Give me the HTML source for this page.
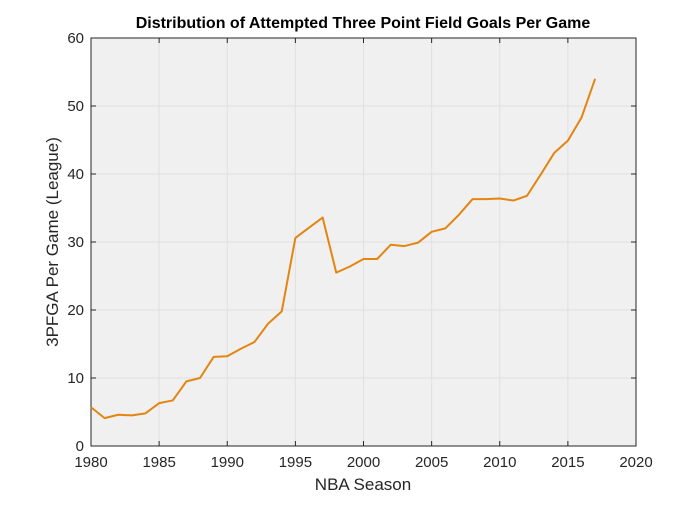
<!DOCTYPE html>
<html><head><meta charset="utf-8"><style>
body{margin:0;background:#fff;}
svg text{font-family:"Liberation Sans",sans-serif;}
</style></head><body>
<svg id="chart" width="700" height="501" xmlns="http://www.w3.org/2000/svg">
<rect x="0" y="0" width="700" height="501" fill="#fff"/>
<text x="363" y="28" text-anchor="middle" font-size="16" font-weight="bold" fill="#000">Distribution of Attempted Three Point Field Goals Per Game</text>
<text x="363" y="490" text-anchor="middle" font-size="17" fill="#262626">NBA Season</text>
<text transform="translate(58,242) rotate(-90)" text-anchor="middle" font-size="17" fill="#262626">3PFGA Per Game (League)</text>
<g id="plot"></g>
</svg>
<script>
const seasons=[1980,1981,1982,1983,1984,1985,1986,1987,1988,1989,1990,1991,1992,1993,1994,1995,1996,1997,1998,1999,2000,2001,2002,2003,2004,2005,2006,2007,2008,2009,2010,2011,2012,2013,2014,2015,2016,2017];
const attempts=[5.7,4.1,4.6,4.5,4.8,6.3,6.7,9.5,10.0,13.1,13.2,14.3,15.3,18.0,19.8,30.6,32.1,33.6,25.5,26.4,27.5,27.5,29.6,29.4,29.9,31.5,32.0,34.0,36.3,36.3,36.4,36.1,36.8,39.9,43.1,44.9,48.3,54.0];
const xTicks=[1980,1985,1990,1995,2000,2005,2010,2015,2020];
const yTicks=[0,10,20,30,40,50,60];
const L=91,R=636,T=38,B=446;
const xs=v=>L+(v-1980)/40*(R-L);
const ys=v=>B-v/60*(B-T);
const g=document.getElementById('plot');
const NS='http://www.w3.org/2000/svg';
function mk(t,a){const e=document.createElementNS(NS,t);for(const k in a)e.setAttribute(k,a[k]);g.appendChild(e);return e;}
const bg=mk('rect',{x:L,y:T,width:R-L,height:B-T,fill:'#f0f0f0'});


xTicks.forEach(v=>{const x=xs(v);
 const gl=mk('line',{x1:x,x2:x,y1:T,y2:B,stroke:'#e0e0e0','stroke-width':1});
 
 
 mk('line',{x1:x,x2:x,y1:B,y2:B-5,stroke:'#262626'});
 mk('line',{x1:x,x2:x,y1:T,y2:T+5,stroke:'#262626'});
 const t=mk('text',{x:x,y:B+21,'text-anchor':'middle','font-size':15,fill:'#262626'});t.textContent=v;
 
 });
yTicks.forEach(v=>{const y=ys(v);
 const gl=mk('line',{x1:L,x2:R,y1:y,y2:y,stroke:'#e0e0e0','stroke-width':1});
 
 
 mk('line',{x1:L,x2:L+5,y1:y,y2:y,stroke:'#262626'});
 mk('line',{x1:R,x2:R-5,y1:y,y2:y,stroke:'#262626'});
 const t=mk('text',{x:L-7,y:y+5,'text-anchor':'end','font-size':15,fill:'#262626'});t.textContent=v;
 
 });
const box=mk('rect',{x:L,y:T,width:R-L,height:B-T,fill:'none',stroke:'#262626','stroke-width':1});


const line=mk('polyline',{points:seasons.map((s,i)=>xs(s)+','+ys(attempts[i])).join(' '),fill:'none',stroke:'#e38510','stroke-width':2,'stroke-linejoin':'round'});


</script>
</body></html>
